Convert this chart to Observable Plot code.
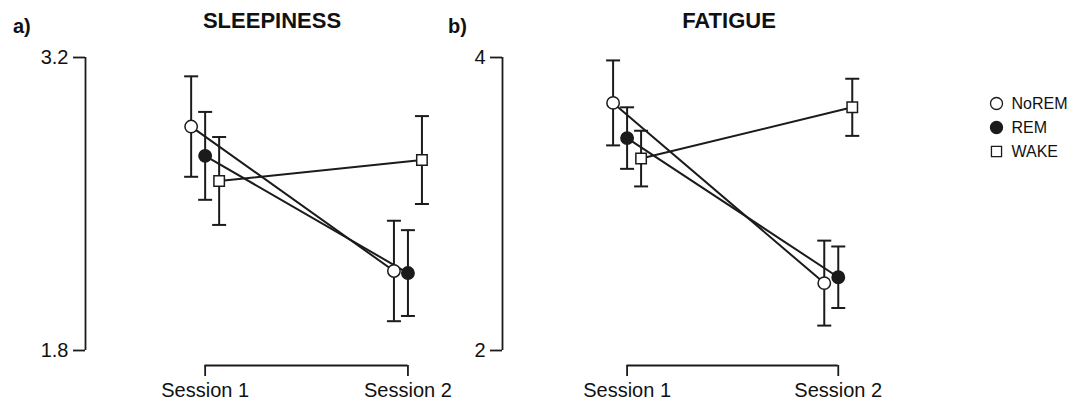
<!DOCTYPE html>
<html><head><meta charset="utf-8">
<script src="https://cdn.jsdelivr.net/npm/d3@7"></script>
<script src="https://cdn.jsdelivr.net/npm/@observablehq/plot@0.6"></script>
<style>
html,body{margin:0;padding:0;background:#fff;}
#root{position:relative;width:1083px;height:401px;overflow:hidden;font-family:"Liberation Sans",Arial,sans-serif;color:#111;}
#root svg{position:absolute;top:0;background:transparent !important;overflow:visible;max-width:none !important;}
.abs{position:absolute;white-space:nowrap;}
.title{font-weight:bold;font-size:22px;line-height:22px;transform:translateX(-50%);}
.tag{font-weight:bold;font-size:20px;line-height:20px;}
</style></head><body><div id="root"></div>
<script>
// ---------- data ----------
const sessions = ["Session 1", "Session 2"];
const groups = ["NoREM", "REM", "WAKE"];
const sleepinessMean = [[2.87, 2.18], [2.73, 2.17], [2.61, 2.71]];
const sleepinessErr  = [[0.24, 0.24], [0.21, 0.205], [0.21, 0.21]];
const fatigueMean    = [[3.69, 2.46], [3.45, 2.50], [3.31, 3.66]];
const fatigueErr     = [[0.29, 0.29], [0.21, 0.21], [0.19, 0.195]];
const sleepinessTicks = [1.8, 3.2];
const fatigueTicks = [2, 4];

// ---------- styles / layout ----------
const ink = "#1b1b1b";
const dodge = [-14, 0, 14];
const groupStyle = {
  NoREM: {symbol: "circle", fill: "white", r: 6.2},
  REM:   {symbol: "circle", fill: ink,     r: 6.2},
  WAKE:  {symbol: "square", fill: "white", r: 5.9}
};
const capSymbol = {draw(ctx, size) { const r = Math.sqrt(size / Math.PI); ctx.moveTo(-r, 0); ctx.lineTo(r, 0); }};
const xDomain = [0.41, 2.2];
const font = "'Liberation Sans', Arial, sans-serif";

function rowsFor(mean, err) {
  const rows = [];
  groups.forEach((g, gi) => sessions.forEach((s, si) => {
    rows.push({group: g, gi, x: si + 1, mean: mean[gi][si], lo: mean[gi][si] - err[gi][si], hi: mean[gi][si] + err[gi][si]});
  }));
  return rows;
}

function panel({mean, err, ticks, left, marginLeft, width}) {
  const rows = rowsFor(mean, err);
  const marks = [];
  // axis line + y ticks
  marks.push(Plot.ruleX([xDomain[0]], {y1: ticks[0], y2: ticks[1], stroke: ink, strokeWidth: 1.8}));
  marks.push(Plot.axisY({ticks, tickFormat: d => String(d), tickSize: 12, tickPadding: 5, fontSize: 20, stroke: ink, strokeWidth: 1.8, fill: "#111"}));
  // x bracket
  marks.push(Plot.ruleY([ticks[0]], {x1: 1, x2: 2, dy: 15, stroke: ink, strokeWidth: 1.8}));
  marks.push(Plot.axisX({ticks: [1, 2], tickFormat: i => sessions[i - 1], tickSize: 11, dy: 15, tickPadding: 6, fontSize: 20, stroke: ink, strokeWidth: 1.8, fill: "#111"}));
  // lines
  groups.forEach((g, gi) => {
    const d = rows.filter(r => r.group === g);
    marks.push(Plot.line(d, {x: "x", y: "mean", dx: dodge[gi], stroke: ink, strokeWidth: 2}));
  });
  // error bars
  groups.forEach((g, gi) => {
    const d = rows.filter(r => r.group === g);
    marks.push(Plot.ruleX(d, {x: "x", y1: "lo", y2: "hi", dx: dodge[gi], stroke: ink, strokeWidth: 2}));
    marks.push(Plot.dot(d, {x: "x", y: "lo", dx: dodge[gi], symbol: capSymbol, r: 7, fill: "none", stroke: ink, strokeWidth: 2}));
    marks.push(Plot.dot(d, {x: "x", y: "hi", dx: dodge[gi], symbol: capSymbol, r: 7, fill: "none", stroke: ink, strokeWidth: 2}));
  });
  // markers
  groups.forEach((g, gi) => {
    const d = rows.filter(r => r.group === g);
    const st = groupStyle[g];
    marks.push(Plot.dot(d, {x: "x", y: "mean", dx: dodge[gi], symbol: st.symbol, r: st.r, fill: st.fill, stroke: ink, strokeWidth: 1.5}));
  });
  const svg = Plot.plot({
    width, height: 401,
    marginLeft, marginRight: 0, marginTop: 57, marginBottom: 51,
    x: {domain: xDomain, label: null},
    y: {domain: ticks, label: null},
    style: {background: "transparent", fontFamily: font, color: "#111"},
    marks
  });
  svg.style.left = left + "px";
  return svg;
}

const root = document.getElementById("root");
root.appendChild(panel({mean: sleepinessMean, err: sleepinessErr, ticks: sleepinessTicks, left: 0, marginLeft: 85, width: 448}));
root.appendChild(panel({mean: fatigueMean, err: fatigueErr, ticks: fatigueTicks, left: 418, marginLeft: 84, width: 462}));

// legend
const legend = Plot.plot({
  width: 100, height: 73, marginLeft: 12, marginRight: 0, marginTop: 13, marginBottom: 12,
  y: {type: "point", domain: groups, padding: 0, axis: null},
  style: {background: "transparent", fontFamily: font, color: "#111"},
  marks: [
    ...groups.map(g => Plot.dot([g], {y: d => d, frameAnchor: "left", symbol: groupStyle[g].symbol, r: groupStyle[g].r - 0.2, fill: groupStyle[g].fill, stroke: ink, strokeWidth: 1.3})),
    Plot.text(groups, {y: d => d, text: d => d, frameAnchor: "left", dx: 15, textAnchor: "start", fontSize: 16, fill: "#111"})
  ]
});
legend.style.left = "984px";
legend.style.top = "90px";
root.appendChild(legend);

// titles and panel tags
function addText(cls, text, left, top) {
  const el = document.createElement("div");
  el.className = "abs " + cls;
  el.textContent = text;
  el.style.left = left + "px";
  el.style.top = top + "px";
  root.appendChild(el);
}
addText("tag", "a)", 13, 16);
addText("tag", "b)", 448, 16);
addText("title", "SLEEPINESS", 272, 10);
addText("title", "FATIGUE", 729, 10);
</script></body></html>
